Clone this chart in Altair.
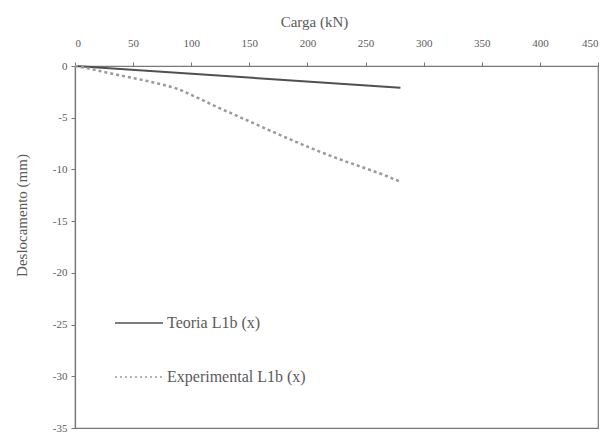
import altair as alt
import pandas as pd

# Data
teoria_carga = [0, 280]
teoria_desl = [0, -2.1]

exp_carga = [0, 10, 20, 30, 45, 60, 75, 88, 100, 125, 150, 175, 200, 211, 225, 250, 265, 280]
exp_desl = [0, -0.2, -0.45, -0.7, -1.05, -1.4, -1.8, -2.2, -2.8, -4.1, -5.35, -6.6, -7.8, -8.3, -8.9, -9.9, -10.5, -11.2]

series_names = ["Teoria L1b (x)", "Experimental L1b (x)"]

df = pd.DataFrame(
    {"carga": teoria_carga, "desl": teoria_desl, "serie": series_names[0]}
)
df2 = pd.DataFrame(
    {"carga": exp_carga, "desl": exp_desl, "serie": series_names[1]}
)

FONT = "Liberation Serif"
GRAY = "#5a5a5a"

x = alt.X(
    "carga:Q",
    scale=alt.Scale(domain=[0, 450], nice=False),
    axis=alt.Axis(
        orient="top",
        values=list(range(0, 451, 50)),
        title="Carga (kN)",
        titlePadding=8,
        labelPadding=14,
        titleX=239,
        titleAnchor="middle",
    ),
)
y = alt.Y(
    "desl:Q",
    scale=alt.Scale(domain=[-35, 0], nice=False),
    axis=alt.Axis(
        values=list(range(-35, 1, 5)),
        labelExpr="'' + datum.value",
        title="Deslocamento (mm)",
        titlePadding=23,
        labelPadding=4,
        titleY=149,
    ),
)

teoria = alt.Chart(df).mark_line(color="#505050", strokeWidth=2).encode(x=x, y=y)
experimental = alt.Chart(df2).mark_line(
    color="#9a9a9a", strokeWidth=2.5, strokeDash=[3, 3], interpolate="monotone"
).encode(x=x, y=y)

# legend (manual, inside plot)
leg1 = pd.DataFrame({"label": [series_names[0]]})
leg2 = pd.DataFrame({"label": [series_names[1]]})

leg_rule1 = alt.Chart(leg1).mark_rule(color="#505050", strokeWidth=1.5).encode(
    x=alt.value(40), x2=alt.value(88), y=alt.value(257)
)
leg_text1 = alt.Chart(leg1).mark_text(
    align="left", baseline="middle", font=FONT, fontSize=16, color=GRAY
).encode(x=alt.value(92), y=alt.value(257), text="label:N")
leg_rule2 = alt.Chart(leg2).mark_rule(
    color="#9a9a9a", strokeWidth=1.5, strokeDash=[2, 3]
).encode(x=alt.value(40), x2=alt.value(88), y=alt.value(311))
leg_text2 = alt.Chart(leg2).mark_text(
    align="left", baseline="middle", font=FONT, fontSize=16, color=GRAY
).encode(x=alt.value(92), y=alt.value(311), text="label:N")

chart = (
    alt.layer(teoria, experimental, leg_rule1, leg_text1, leg_rule2, leg_text2)
    .properties(
        width=523,
        height=362,
        autosize=alt.AutoSizeParams(type="none"),
        padding={"left": 67, "top": 58, "right": 3, "bottom": 5},
        background="white",
    )
    .configure_view(stroke="#777777", strokeWidth=1.2)
    .configure_axis(
        grid=False,
        domainColor="#777777",
        domainWidth=1.2,
        tickColor="#777777",
        tickSize=4,
        labelFont=FONT,
        labelFontSize=11,
        labelColor=GRAY,
        titleFont=FONT,
        titleFontSize=15,
        titleFontWeight="normal",
        titleColor=GRAY,
    )
)

chart.save("out.html", embed_options={"renderer": "svg", "actions": False})
